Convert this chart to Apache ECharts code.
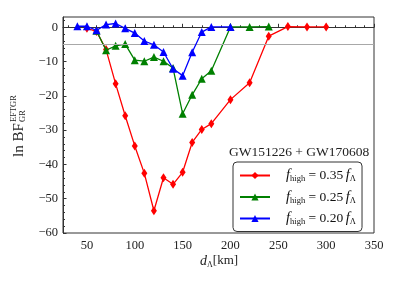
<!DOCTYPE html>
<html><head><meta charset="utf-8">
<script src="https://cdn.jsdelivr.net/npm/echarts@6/dist/echarts.min.js"></script>
<style>html,body{margin:0;padding:0;background:#fff}#c{width:399px;height:285px}</style>
</head><body><div id="c"></div>
<script>
const xRed = [50,60,70,80,90,100,110,120,130,140,150,160,170,180,200,220,240,260,280,300];
const yRed = [-0.3,-1.2,-6.5,-16.5,-25.8,-34.6,-42.6,-53.5,-43.9,-45.8,-42.3,-33.6,-29.8,-28.1,-21.1,-16.2,-2.6,0.2,0.1,0.1];
const xGreen = [60,70,80,90,100,110,120,130,140,150,160,170,180,200,220,240];
const yGreen = [-1.0,-6.7,-5.4,-4.9,-9.6,-9.9,-8.7,-9.9,-11.9,-25.2,-19.7,-15.0,-12.7,0.1,0.1,0.2];
const xBlue = [40,50,60,70,80,90,100,110,120,130,140,150,160,170,180,200];
const yBlue = [0.3,0.3,-0.9,0.8,1.1,-0.3,-1.7,-4.0,-5.1,-7.2,-12.1,-14.1,-7.3,-1.4,0.1,0.1];
const seriesNames = ['0.35','0.25','0.20'];
const xTickVals = [50,100,150,200,250,300,350];
const xMinorVals = [30,40,60,70,80,90,110,120,130,140,160,170,180,190,210,220,230,240,260,270,280,290,310,320,330,340];
const yTickVals = [-60,-50,-40,-30,-20,-10,0];
const yMinorVals = [-58,-56,-54,-52,-48,-46,-44,-42,-38,-36,-34,-32,-28,-26,-24,-22,-18,-16,-14,-12,-8,-6,-4,-2,2];
const threshold = -5;
const legendTitle = 'GW151226 + GW170608';

const FONT = 'Liberation Serif';
const chart = echarts.init(document.getElementById('c'));
const zip = (xs, ys) => xs.map((x, i) => [x, ys[i]]);
const colors = ['#ff0000', '#008000', '#0000ff'];
const symbols = ['diamond', 'triangle', 'triangle'];
const symSizes = [[6, 9], 8, 8];
const datas = [zip(xRed, yRed), zip(xGreen, yGreen), zip(xBlue, yBlue)];

const series = datas.map((d, i) => ({
  name: seriesNames[i], type: 'line', data: d, xAxisIndex: 0, yAxisIndex: 0,
  symbol: symbols[i], symbolSize: symSizes[i], showAllSymbol: true,
  lineStyle: {color: colors[i], width: 1.3}, itemStyle: {color: colors[i]},
  z: 3 + i, animation: false,
  markLine: i === 0 ? {silent: true, symbol: 'none', label: {show: false},
    lineStyle: {color: '#a8a8a8', width: 1.2, type: 'solid'},
    data: [{yAxis: threshold}], animation: false} : undefined
}));

const axisCommon = {
  axisLine: {show: true, lineStyle: {color: '#333', width: 1}},
  splitLine: {show: false}
};

chart.setOption({
  animation: false,
  grid: {left: 63, right: 25, top: 17, bottom: 52, show: true, borderColor: '#333', borderWidth: 1},
  xAxis: [
    Object.assign({type: 'value', min: 25, max: 350, gridIndex: 0,
      axisTick: {show: true, inside: true, length: 3.5, customValues: xTickVals, lineStyle: {color: '#333'}},
      axisLabel: {customValues: xTickVals, fontFamily: FONT, fontSize: 12.5, color: '#222', margin: 6}}, axisCommon),
    {type: 'value', min: 25, max: 350, gridIndex: 0, position: 'bottom',
      axisLine: {show: false}, splitLine: {show: false}, axisLabel: {show: false},
      axisTick: {show: true, inside: true, length: 2, customValues: xMinorVals, lineStyle: {color: '#333'}}}
  ],
  yAxis: [
    Object.assign({type: 'value', min: -60, max: 3, gridIndex: 0,
      axisTick: {show: true, inside: true, length: 3.5, customValues: yTickVals, lineStyle: {color: '#333'}},
      axisLabel: {customValues: yTickVals, fontFamily: FONT, fontSize: 12.5, color: '#222', margin: 5,
        formatter: v => (v < 0 ? '\u2212' + (-v) : '' + v)}}, axisCommon),
    {type: 'value', min: -60, max: 3, gridIndex: 0, position: 'left',
      axisLine: {show: false}, splitLine: {show: false}, axisLabel: {show: false},
      axisTick: {show: true, inside: true, length: 2, customValues: yMinorVals, lineStyle: {color: '#333'}}}
  ],
  legend: {
    left: 233, top: 162, width: 133, orient: 'vertical',
    itemWidth: 30, itemHeight: 9, itemGap: 6,
    padding: [6, 6, 5, 6],
    borderColor: '#333', borderWidth: 1, borderRadius: 4, backgroundColor: '#fff',
    data: seriesNames,
    formatter: n => '{f|f}{s|high}{t| = ' + n + '\u2009}{f|f}{s|\u039B}',
    textStyle: {
      fontFamily: FONT, color: '#111', padding: [0, 0, 0, 11],
      rich: {
        f: {fontFamily: FONT, fontStyle: 'italic', fontSize: 14.5, lineHeight: 16},
        s: {fontFamily: FONT, fontSize: 8.5, verticalAlign: 'bottom', lineHeight: 16},
        t: {fontFamily: FONT, fontSize: 13.5, lineHeight: 16}
      }
    }
  },
  graphic: [
    {type: 'text', left: 229, top: 145, style: {text: legendTitle, font: '13.5px "Liberation Serif"', fill: '#222'}},
    {type: 'text', left: 200, top: 254, style: {
      text: '{i|d}{s|\u039B}{t|[km]}',
      rich: {
        i: {fontFamily: FONT, fontStyle: 'italic', fontSize: 14, lineHeight: 16, fill: '#222'},
        s: {fontFamily: FONT, fontSize: 8, verticalAlign: 'bottom', lineHeight: 16, fill: '#222'},
        t: {fontFamily: FONT, fontSize: 13, lineHeight: 16, fill: '#222'}
      }}},
    {type: 'group', x: 19, y: 157, rotation: Math.PI / 2, children: [
      {type: 'text', x: 0, y: 0, style: {text: 'ln BF', font: '15px "Liberation Serif"', fill: '#222', textVerticalAlign: 'middle'}},
      {type: 'text', x: 35, y: -5, style: {text: 'EFTGR', font: '8.5px "Liberation Serif"', fill: '#222', textVerticalAlign: 'middle'}},
      {type: 'text', x: 35, y: 4, style: {text: 'GR', font: '8.5px "Liberation Serif"', fill: '#222', textVerticalAlign: 'middle'}}
    ]}
  ],
  series: series
});
</script></body></html>
